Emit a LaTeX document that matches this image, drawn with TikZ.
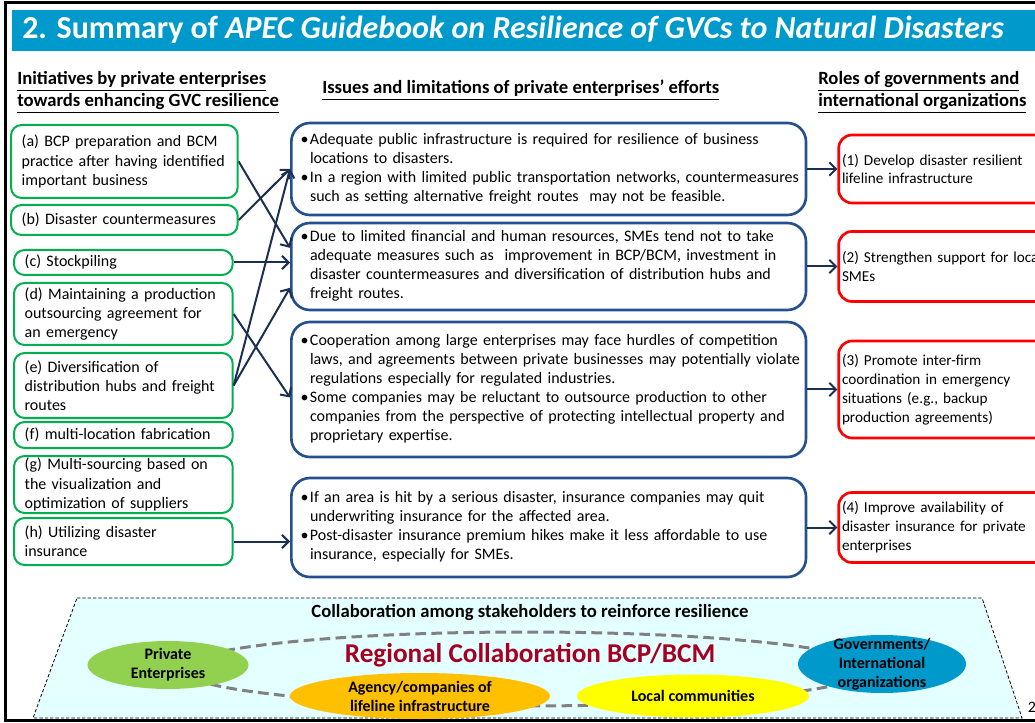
\documentclass[tikz,border=0pt]{standalone}
\usepackage{fontspec}
\setmainfont{Carlito}
\usepackage{xcolor}
\usetikzlibrary{arrows.meta,positioning,shapes.geometric}
\definecolor{titleblue}{HTML}{0099CC}
\definecolor{initgreen}{HTML}{00B050}
\definecolor{issueblue}{HTML}{24508F}
\definecolor{arrownavy}{HTML}{1B2F50}
\definecolor{rolered}{HTML}{FF0000}
\definecolor{panelcyan}{HTML}{E4FFFF}
\definecolor{privgreen}{HTML}{92D050}
\definecolor{agencyorange}{HTML}{FFC000}
\definecolor{localyellow}{HTML}{FFFF00}
\definecolor{govblue}{HTML}{0099CC}
\definecolor{regionred}{HTML}{A50021}
\definecolor{ringgray}{HTML}{808080}
\newcommand{\issuelist}[1]{\begin{tabular}{@{}p{7pt}@{}l@{}}#1\end{tabular}}

\begin{document}
\begin{tikzpicture}[
    x=0.75pt, y=-0.75pt,
    font=\fontsize{12}{14.4}\selectfont,
    initbox/.style={rectangle, draw=initgreen, line width=1.5pt, rounded corners=8pt, align=left, inner xsep=8pt, inner ysep=0pt, anchor=west, text width=#1},
    issuebox/.style={rectangle, draw=issueblue, line width=2pt, rounded corners=14pt, align=left, inner xsep=7pt, inner ysep=0pt, anchor=west, text width=372pt, font=\fontsize{12}{14.3}\selectfont},
    rolebox/.style={rectangle, draw=rolered, line width=2pt, rounded corners=10pt, align=left, inner xsep=2.5pt, inner ysep=0pt, text width=200pt, font=\fontsize{11.4}{14.2}\selectfont},
    colhead/.style={font=\bfseries\fontsize{14}{16.5}\selectfont, align=left, inner sep=0pt, anchor=base west},
    actor/.style={ellipse, inner sep=0pt},
    actortext/.style={font=\bfseries\fontsize{12}{14.2}\selectfont, align=center, inner sep=0pt},
    arrow/.style={-{Straight Barb[length=5pt,width=10pt]}, line width=1.5pt, draw=arrownavy}
]
    \useasboundingbox (0,0) rectangle (1035,723);
    \clip (0,0) rectangle (1035,723);

    % Slide frame and title
    \draw[line width=2.25pt] (5,3) rectangle (1060,720);
    \fill[titleblue] (12,10) rectangle (1035,51);
    \node[anchor=west, inner sep=0pt, text=white, font=\bfseries\fontsize{24}{28}\selectfont] (title) at (22,30)
        {2. Summary of \textit{APEC Guidebook on Resilience of GVCs to Natural Disasters}};

    % Column headings
    \node[colhead] (inithead) at (17,107) {\underline{Initiatives by private enterprises}\\\underline{towards enhancing GVC resilience}};
    \node[colhead] (issuehead) at (322,94) {\underline{Issues and limitations of private enterprises’ efforts}};
    \node[colhead] (rolehead) at (818,107) {\underline{Roles of governments and}\\\underline{international organizations}};

    % Initiatives by private enterprises
    \node[initbox=154pt, minimum height=54.75pt] (ia) at (10,161.5) {(a) BCP preparation and BCM\\practice after having identified\\important business};
    \node[initbox=154pt, minimum height=22.5pt] (ib) at (10,220) {(b) Disaster countermeasures};
    \node[initbox=148pt, minimum height=18.75pt] (ic) at (13,262.5) {(c) Stockpiling};
    \node[initbox=148pt, minimum height=46.5pt] (id) at (13,314) {(d) Maintaining a production\\outsourcing agreement for\\an emergency};
    \node[initbox=148pt, minimum height=48.75pt] (ie) at (13,385.5) {(e) Diversification of\\distribution hubs and freight\\routes};
    \node[initbox=148pt, minimum height=19.5pt] (if) at (13,435) {(f) multi-location fabrication};
    \node[initbox=148pt, minimum height=42.75pt] (ig) at (13,484.5) {(g) Multi-sourcing based on\\the visualization and\\optimization of suppliers};
    \node[initbox=148pt, minimum height=35.25pt] (ih) at (13,541.5) {(h) Utilizing disaster\\insurance};

    % Issues and limitations
    \node[issuebox, minimum height=69pt] (is1) at (290,169) {\issuelist{%
        \textbullet & Adequate public infrastructure is required for resilience of business\\
         & locations to disasters.\\
        \textbullet & In a region with limited public transportation networks, countermeasures\\
         & such as setting alternative freight routes~ may not be feasible.}};
    \node[issuebox, minimum height=65.25pt] (is2) at (290,266.5) {\issuelist{%
        \textbullet & Due to limited financial and human resources, SMEs tend not to take\\
         & adequate measures such as~ improvement in BCP/BCM, investment in\\
         & disaster countermeasures and diversification of distribution hubs and\\
         & freight routes.}};
    \node[issuebox, minimum height=101.25pt] (is3) at (290,389.5) {\issuelist{%
        \textbullet & Cooperation among large enterprises may face hurdles of competition\\
         & laws, and agreements between private businesses may potentially violate\\
         & regulations especially for regulated industries.\\
        \textbullet & Some companies may be reluctant to outsource production to other\\
         & companies from the perspective of protecting intellectual property and\\
         & proprietary expertise.}};
    \node[issuebox, minimum height=74.25pt] (is4) at (290,527.5) {\issuelist{%
        \textbullet & If an area is hit by a serious disaster, insurance companies may quit\\
         & underwriting insurance for the affected area.\\
        \textbullet & Post-disaster insurance premium hikes make it less affordable to use\\
         & insurance, especially for SMEs.}};

    % Roles of governments
    \node[rolebox, minimum height=51pt, right=22.5pt of is1] (role1) {(1) Develop disaster resilient\\lifeline infrastructure};
    \node[rolebox, minimum height=52.5pt, right=22.5pt of is2] (role2) {(2) Strengthen support for local\\SMEs};
    \node[rolebox, minimum height=72.75pt, right=22.5pt of is3] (role3) {(3) Promote inter-firm\\coordination in emergency\\situations (e.g., backup\\production agreements)};
    \node[rolebox, minimum height=52.5pt, right=22.5pt of is4] (role4) {(4) Improve availability of\\disaster insurance for private\\enterprises};

    % Links
    \draw[arrow] (ia.east) -- ([yshift=14pt]is2.west);
    \draw[arrow] (ib.east) -- (is1.west);
    \draw[arrow] (ic.east) -- (ic.east -| is2.west);
    \draw[arrow] (id.east) -- ([yshift=-6pt]is3.west);
    \draw[arrow] (ie.east) -- (is1.west);
    \draw[arrow] (ie.east) -- ([yshift=-16pt]is2.west);
    \draw[arrow] (ih.east) -- (ih.east -| is4.west);
    \foreach \i in {1,...,4}
        \draw[arrow] (is\i.east) -- (role\i.west);

    % Collaboration panel
    \draw[dash pattern=on 2.5pt off 1.5pt, line width=0.6pt, fill=panelcyan] (77,598) -- (982,598) -- (1022,718) -- (33,718) -- cycle;
    \node[font=\bfseries\fontsize{14}{16}\selectfont] (collab) at (530,613) {Collaboration among stakeholders to reinforce resilience};
    \draw[ringgray, line width=2.25pt, dash pattern=on 8pt off 4pt] (525,669) ellipse [x radius=345, y radius=37];
    \node[font=\bfseries\fontsize{20.4}{22}\selectfont, text=regionred] (region) at (530,655) {Regional Collaboration BCP/BCM};

    \node[actor, fill=privgreen, minimum width=120.75pt, minimum height=36pt] (priv) at (168,665) {};
    \node[actortext] at (priv) {Private\\Enterprises};
    \node[actor, fill=agencyorange, minimum width=195pt, minimum height=34.5pt] (agency) at (420,696) {};
    \node[actortext] at (agency) {Agency/companies of\\lifeline infrastructure};
    \node[actor, fill=localyellow, minimum width=174pt, minimum height=32.25pt] (local) at (693,696) {};
    \node[actortext] at (local) {Local communities};
    \node[actor, fill=govblue, minimum width=126pt, minimum height=43.5pt] (gov) at (882,664) {};
    \node[actortext] at (gov) {Governments/\\International\\organizations};

    \node[inner sep=0pt] (pagenum) at (1032,707) {2};
\end{tikzpicture}
\end{document}
